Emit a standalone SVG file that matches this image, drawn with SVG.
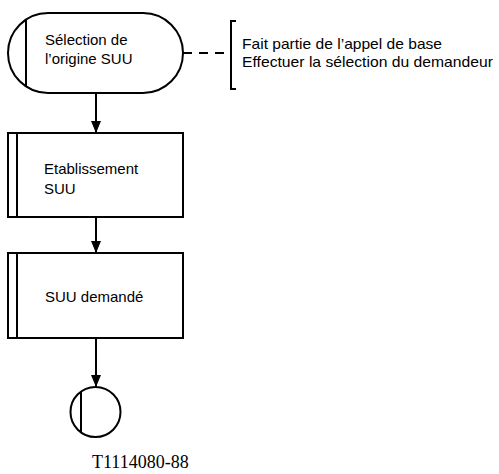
<svg xmlns="http://www.w3.org/2000/svg" width="499" height="474" viewBox="0 0 499 474">
<defs>
<style>
.s{fill:#fff;stroke:#000;stroke-width:2}
.l{fill:none;stroke:#000;stroke-width:2}
.t{font-family:"Liberation Sans",Arial,sans-serif;font-size:15px;fill:#000}
.f{font-family:"Liberation Serif","Times New Roman",serif;font-size:18px;fill:#000}
</style>
<marker id="ah" markerWidth="12" markerHeight="10" refX="12" refY="5" orient="auto" markerUnits="userSpaceOnUse">
<path d="M0,0 L12,5 L0,10 Z" fill="#000"/>
</marker>
</defs>
<rect width="499" height="474" fill="#fff"/>
<g id="connectors">
<line class="l" x1="96" y1="93" x2="96" y2="133" marker-end="url(#ah)"/>
<line class="l" x1="96" y1="217" x2="96" y2="253" marker-end="url(#ah)"/>
<line class="l" x1="96" y1="338" x2="96" y2="387" marker-end="url(#ah)"/>
<line class="l" x1="183" y1="53" x2="230" y2="53" stroke-dasharray="9 7"/>
</g>
<g id="start">
<rect class="s" x="8" y="13" width="175" height="80" rx="40" ry="40"/>
<line class="l" x1="26" y1="19" x2="26" y2="87"/>
<text class="t" x="45" y="45">Sélection de</text>
<text class="t" x="45" y="64">l’origine SUU</text>
</g>
<g id="comment">
<path class="l" d="M236,21 L231,21 L231,89 L236,89"/>
<text class="t" x="242" y="48.5" textLength="200" lengthAdjust="spacingAndGlyphs">Fait partie de l’appel de base</text>
<text class="t" x="242" y="67" textLength="251" lengthAdjust="spacingAndGlyphs">Effectuer la sélection du demandeur</text>
</g>
<g id="etablissement">
<rect class="s" x="8" y="133" width="175" height="84"/>
<line class="l" x1="17" y1="133" x2="17" y2="217"/>
<text class="t" x="44" y="174">Etablissement</text>
<text class="t" x="44" y="194">SUU</text>
</g>
<g id="demande">
<rect class="s" x="8" y="253" width="175" height="85"/>
<line class="l" x1="17" y1="253" x2="17" y2="338"/>
<text class="t" x="45" y="302">SUU demandé</text>
</g>
<g id="end">
<circle class="s" cx="95.5" cy="412" r="25"/>
<line class="l" x1="81" y1="392" x2="81" y2="432"/>
</g>
<text class="f" x="92" y="468">T1114080-88</text>
</svg>
